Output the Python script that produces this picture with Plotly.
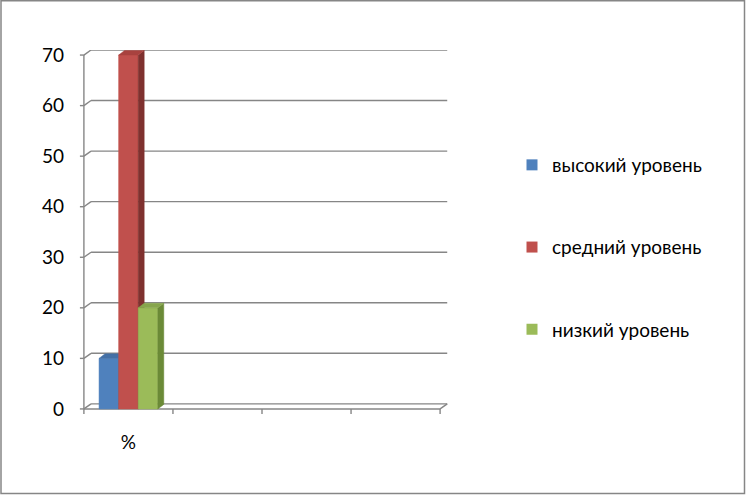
import plotly.graph_objects as go

# ---------------- data ----------------
categories = ["%", "", "", ""]
series_names = ["высокий уровень", "средний уровень", "низкий уровень"]
vysokiy = [10]   # values for category "%"
sredniy = [70]
nizkiy = [20]
y_ticks = [0, 10, 20, 30, 40, 50, 60, 70]

series_values = [vysokiy, sredniy, nizkiy]

# ---------------- style ----------------
front_colors = ["#4F81BD", "#C0504D", "#9BBB59"]
top_colors = ["#4470A6", "#A8423F", "#87A64C"]
side_colors = ["#385D8A", "#7F312F", "#6B8A37"]
grid_color = "#868686"
font_family = "Lato, 'Noto Sans', sans-serif"
font_size = 19

W, H = 746, 495
ML, MR, MT, MB = 75, 297, 50, 80
X_RANGE = [-0.1, 4.1]
Y_RANGE = [-1.2, 71]

gap = 0.17
bar_w = 0.22
dx, dy = 0.067, 0.9          # bar depth
wdx, wdy = 0.08, 1.0         # wall depth

fig = go.Figure()

# bars (front, side, top faces)
for ci in range(len(categories)):
    for si, vals in enumerate(series_values):
        if ci >= len(vals) or vals[ci] is None:
            continue
        v = vals[ci]
        x0 = ci + gap + si * bar_w
        x1 = x0 + bar_w
        faces = [
            ([x0, x1, x1, x0, x0], [0, 0, v, v, 0], front_colors[si]),
            ([x1, x1 + dx, x1 + dx, x1, x1], [0, dy, v + dy, v, 0], side_colors[si]),
            ([x0, x0 + dx, x1 + dx, x1, x0], [v, v + dy, v + dy, v, v], top_colors[si]),
        ]
        for fx, fy, col in faces:
            fig.add_trace(go.Scatter(
                x=fx, y=fy, mode="lines", fill="toself", fillcolor=col,
                line=dict(color=col, width=0.5), showlegend=False, hoverinfo="skip"))

# legend entries
for name, col in zip(series_names, front_colors):
    fig.add_trace(go.Scatter(
        x=[None], y=[None], mode="markers", name=name, legendgroup=name,
        marker=dict(symbol="square", size=11, color=col)))

shapes = []
n = len(categories)
gl = dict(color=grid_color, width=1.4)
for v in y_ticks:
    shapes.append(dict(type="line", xref="x", yref="y", x0=wdx, y0=v + wdy,
                       x1=n + wdx, y1=v + wdy, line=gl, layer="below"))
    shapes.append(dict(type="line", xref="x", yref="y", x0=0, y0=v,
                       x1=wdx, y1=v + wdy, line=gl, layer="below"))
    shapes.append(dict(type="line", xref="x", yref="y", x0=-0.045, y0=v,
                       x1=0, y1=v, line=gl, layer="below"))
# front axes
shapes.append(dict(type="line", xref="x", yref="y", x0=0, y0=0, x1=0,
                   y1=y_ticks[-1], line=gl, layer="below"))
shapes.append(dict(type="line", xref="x", yref="y", x0=0, y0=0, x1=n, y1=0,
                   line=gl, layer="below"))
shapes.append(dict(type="line", xref="x", yref="y", x0=n, y0=0, x1=n + wdx,
                   y1=wdy, line=gl, layer="below"))
for k in range(n + 1):
    shapes.append(dict(type="line", xref="x", yref="y", x0=k, y0=0, x1=k,
                       y1=-1.0, line=gl, layer="below"))

# outer border (in paper coords)
pw = W - ML - MR
ph = H - MT - MB
def px2paper_x(p):
    return (p - ML) / pw
def px2paper_y(p):
    return (H - MB - p) / ph
shapes.append(dict(type="rect", xref="paper", yref="paper",
                   x0=px2paper_x(1), x1=px2paper_x(744.5),
                   y0=px2paper_y(493.5), y1=px2paper_y(0.8),
                   line=dict(color="#868686", width=1.5)))

fig.update_layout(
    width=W, height=H,
    margin=dict(l=ML, r=MR, t=MT, b=MB, pad=0),
    paper_bgcolor="white", plot_bgcolor="white",
    font=dict(family=font_family, size=font_size, color="#000000"),
    shapes=shapes,
    showlegend=True,
    legend=dict(
        x=px2paper_x(512), y=px2paper_y(146), xanchor="left", yanchor="top",
        traceorder="grouped", tracegroupgap=54.5,
        font=dict(size=font_size, family=font_family),
        itemwidth=30, bgcolor="rgba(0,0,0,0)"),
    xaxis=dict(range=X_RANGE, tickvals=[i + 0.5 for i in range(n)],
               ticktext=categories, showgrid=False, zeroline=False,
               showline=False, ticks="", ticklabelstandoff=14, fixedrange=True),
    yaxis=dict(range=Y_RANGE, tickvals=y_ticks, showgrid=False, zeroline=False,
               showline=False, ticks="", ticklabelstandoff=10, fixedrange=True),
)

fig.write_html("out.html", config={"displayModeBar": False},
               post_script="document.body.style.margin='0px';")
